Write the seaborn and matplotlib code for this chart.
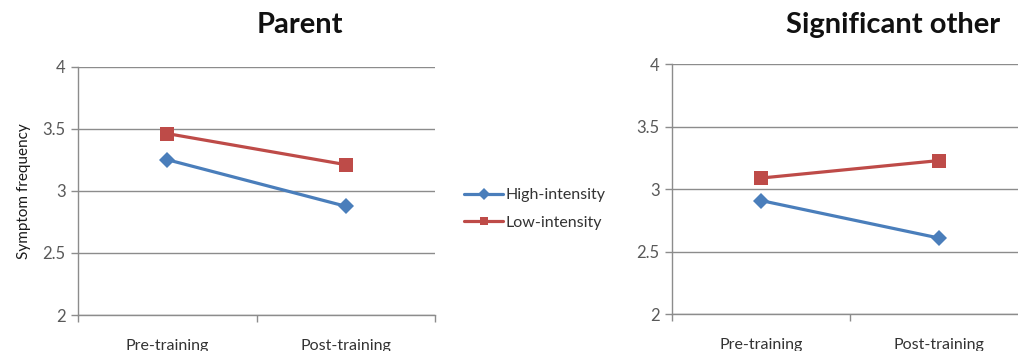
import matplotlib
matplotlib.use("Agg")
import matplotlib.pyplot as plt
import seaborn as sns
import pandas as pd

# Mean symptom frequency by training phase, per respondent group
phases = ["Pre-training", "Post-training"]
groups = ["High-intensity", "Low-intensity"]
parent_high = [3.25, 2.875]
parent_low = [3.46, 3.21]
other_high = [2.91, 2.61]
other_low = [3.09, 3.23]
y_ticks = [2, 2.5, 3, 3.5, 4]
y_tick_labels = ["2", "2.5", "3", "3.5", "4"]

sns.set_theme(style="white")
plt.rcParams["font.family"] = ["Lato", "DejaVu Sans"]

palette = {"High-intensity": "#4A7EBB", "Low-intensity": "#BE4B48"}
markers = {"High-intensity": "D", "Low-intensity": "s"}


def long_frame(high, low):
    rows = []
    for g, vals in zip(groups, [high, low]):
        for p, v in zip(phases, vals):
            rows.append({"phase": p, "group": g, "value": v})
    return pd.DataFrame(rows)


fig = plt.figure(figsize=(10.18, 3.51), dpi=100)
ax_left = fig.add_axes([78 / 1018, 36 / 351, 357 / 1018, 248.5 / 351])
ax_right = fig.add_axes([672 / 1018, 36.7 / 351, 356 / 1018, 250 / 351])

grid_col = "#8C8C8C"
tick_col = "#595959"

for ax, (high, low) in [(ax_left, (parent_high, parent_low)),
                        (ax_right, (other_high, other_low))]:
    df = long_frame(high, low)
    sns.lineplot(data=df, x="phase", y="value", hue="group", style="group",
                 markers=markers, dashes=False, palette=palette,
                 hue_order=groups, style_order=groups,
                 linewidth=2.3, markersize=8, markeredgewidth=0,
                 sort=False, ax=ax, legend=(ax is ax_left))
    # square markers drawn a little larger than the diamonds
    for line in ax.get_lines():
        if line.get_marker() == "s":
            line.set_markersize(10)
    ax.set_xlim(-0.5, 1.5)
    ax.set_ylim(2, 4)
    ax.set_yticks(y_ticks)
    ax.set_yticklabels(y_tick_labels)
    ax.set_xticks([0, 1])
    ax.set_xticklabels(phases)
    ax.set_xticks([-0.5, 0.5, 1.5], minor=True)
    ax.tick_params(axis="x", which="major", length=0, pad=17,
                   labelsize=11.5, labelcolor="#333333")
    ax.tick_params(axis="x", which="minor", length=5, color=grid_col,
                   width=1, direction="out", bottom=True)
    ax.tick_params(axis="y", length=5, color=grid_col, width=1,
                   direction="out", left=True, labelsize=12,
                   labelcolor=tick_col, pad=4)
    ax.grid(axis="y", color=grid_col, linewidth=1)
    ax.grid(axis="x", visible=False)
    for side in ["top", "right"]:
        ax.spines[side].set_visible(False)
    for side in ["left", "bottom"]:
        ax.spines[side].set_color(grid_col)
        ax.spines[side].set_linewidth(1)
    ax.set_xlabel("")
    ax.set_ylabel("")

ax_left.set_ylabel("Symptom frequency", fontsize=11, color="#1A1A1A",
                   labelpad=8)

handles, labels = ax_left.get_legend_handles_labels()
ax_left.get_legend().remove()
leg = fig.legend(handles, labels, loc="center left",
                 bbox_to_anchor=(450 / 1018, 1 - 209 / 351), frameon=False,
                 fontsize=11.5, handlelength=2.4, handletextpad=0.15,
                 labelspacing=0.85, labelcolor="#333333")
for h in leg.legend_handles:
    h.set_markersize(6)
    h.set_linewidth(2.3)

fig.text(300 / 1018, 1 - 25 / 351, "Parent", ha="center", va="center",
         fontsize=21, fontweight="bold", color="#111111")
fig.text(893 / 1018, 1 - 25 / 351, "Significant other", ha="center",
         va="center", fontsize=21, fontweight="bold", color="#111111")

fig.savefig("out.png", dpi=100, facecolor="white")
